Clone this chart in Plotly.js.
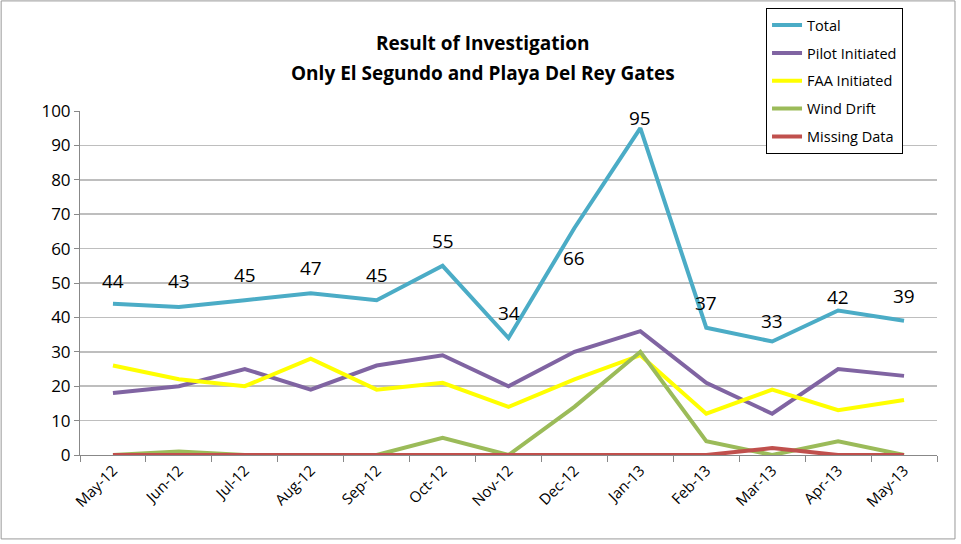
<!DOCTYPE html>
<html>
<head>
<meta charset="utf-8">
<script src="https://cdn.plot.ly/plotly-3.0.1.min.js"></script>
<style>html,body{margin:0;padding:0;background:#fff;}#chart{width:961px;height:544px;}</style>
</head>
<body>
<div id="chart"></div>
<script>
const months = ["May-12","Jun-12","Jul-12","Aug-12","Sep-12","Oct-12","Nov-12","Dec-12","Jan-13","Feb-13","Mar-13","Apr-13","May-13"];
const total = [44,43,45,47,45,55,34,66,95,37,33,42,39];
const pilot = [18,20,25,19,26,29,20,30,36,21,12,25,23];
const faa = [26,22,20,28,19,21,14,22,29,12,19,13,16];
const wind = [0,1,0,0,0,5,0,14,30,4,0,4,0];
const missing = [0,0,0,0,0,0,0,0,0,0,2,0,0];
const yTicks = [0,10,20,30,40,50,60,70,80,90,100];
const titleLines = ["Result of Investigation", "Only El Segundo and Playa Del Rey Gates"];

// label placement (pixel offsets of each Total label from its point)
const labelShiftY = [23,26,25,25,25,25,25,-30,10,25,20,14,25];

const FONT = "'Open Sans', sans-serif";
function tr(name, y, color) {
  return {
    x: months, y: y, name: name, type: 'scatter', mode: 'lines',
    line: {color: color, width: 4}, legendgroup: name, hoverinfo: 'skip'
  };
}
const data = [
  tr('Total', total, '#4BACC6'),
  tr('Pilot Initiated', pilot, '#8064A2'),
  tr('FAA Initiated', faa, '#FFFF00'),
  tr('Wind Drift', wind, '#9BBB59'),
  tr('Missing Data', missing, '#C0504D')
];
const annotations = total.map((v, i) => ({
  x: months[i], y: v, xref: 'x', yref: 'y', text: String(v), showarrow: false,
  yshift: labelShiftY[i], xanchor: 'center', yanchor: 'middle',
  font: {family: FONT, size: 19, color: '#000'}
}));
annotations.push(
  {x: 0.470, y: 1.198, xref: 'paper', yref: 'paper', text: '<b>' + titleLines[0] + '</b>', showarrow: false, xanchor: 'center', yanchor: 'middle', font: {family: FONT, size: 19, color: '#000'}},
  {x: 0.470, y: 1.110, xref: 'paper', yref: 'paper', text: '<b>' + titleLines[1] + '</b>', showarrow: false, xanchor: 'center', yanchor: 'middle', font: {family: FONT, size: 19, color: '#000'}}
);
const layout = {
  width: 961, height: 544,
  margin: {l: 80, r: 24, t: 111, b: 89, autoexpand: false},
  paper_bgcolor: '#fff', plot_bgcolor: '#fff',
  font: {family: FONT, color: '#000'},
  xaxis: {type: 'category', range: [-0.5, 12.5], showline: true, linecolor: '#888', linewidth: 1, ticks: 'outside', tickson: 'boundaries', ticklen: 6, tickcolor: '#888', tickangle: -45, tickfont: {family: FONT, size: 15}, showgrid: false, zeroline: false, automargin: false},
  yaxis: {range: [0, 100], tickvals: yTicks, ticktext: yTicks.map(String), showline: true, linecolor: '#888', linewidth: 1, ticks: 'outside', ticklen: 5, tickcolor: '#888', tickfont: {family: FONT, size: 17}, showgrid: true, gridcolor: '#BEBEBE', gridwidth: 1.5, zeroline: false, automargin: false},
  showlegend: true,
  legend: {x: 0.8005, xref: 'paper', xanchor: 'left', y: 1.299, yref: 'paper', yanchor: 'top', bordercolor: '#000', borderwidth: 1, bgcolor: '#fff', font: {family: FONT, size: 14.5}, traceorder: 'grouped', tracegroupgap: 6},
  annotations: annotations,
  shapes: [{type: 'rect', xref: 'paper', yref: 'paper', x0: -0.092, x1: 1.021, y0: -0.244, y1: 1.32, line: {color: '#999', width: 1}, fillcolor: 'rgba(0,0,0,0)', layer: 'below'}]
};
Plotly.newPlot('chart', data, layout, {staticPlot: true});
</script>
</body>
</html>
